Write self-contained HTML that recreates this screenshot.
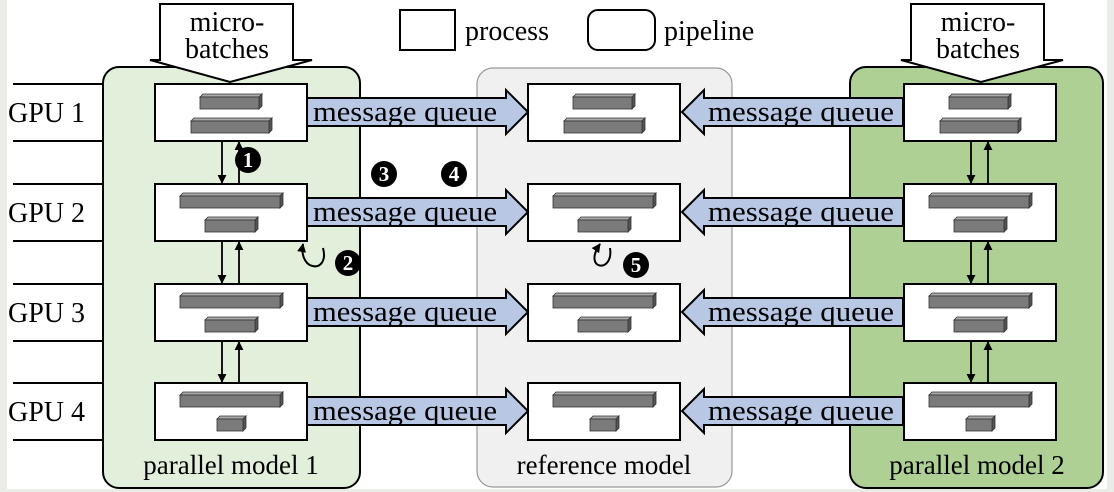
<!DOCTYPE html>
<html><head><meta charset="utf-8"><style>
html,body{margin:0;padding:0;background:#fff;}
svg{display:block;}
</style></head><body>
<svg width="1114" height="492" viewBox="0 0 1114 492" xmlns="http://www.w3.org/2000/svg" font-family="'Liberation Serif', 'Times New Roman', serif">
<defs>
  <marker id="ah" viewBox="0 0 10 10" refX="9" refY="5" markerWidth="9" markerHeight="9" orient="auto-start-reverse" markerUnits="userSpaceOnUse">
    <path d="M0,0 L10,5 L0,10 z" fill="#000"/>
  </marker>
  <g id="bar-a">
    <polygon points="45,13 48,10 107,10 104,13" fill="#aaa" stroke="#333" stroke-width="0.8"/>
    <polygon points="104,13 107,10 107,22 104,25" fill="#555" stroke="#333" stroke-width="0.8"/>
    <rect x="45" y="13" width="59" height="12" fill="#7b7b7b" stroke="#333" stroke-width="0.8"/>
    <polygon points="36,37 39,34 117,34 114,37" fill="#aaa" stroke="#333" stroke-width="0.8"/>
    <polygon points="114,37 117,34 117,46 114,49" fill="#555" stroke="#333" stroke-width="0.8"/>
    <rect x="36" y="37" width="78" height="12" fill="#7b7b7b" stroke="#333" stroke-width="0.8"/>
  </g>
  <g id="bar-long">
    <polygon points="25,12 28,9 128,9 125,12" fill="#aaa" stroke="#333" stroke-width="0.8"/>
    <polygon points="125,12 128,9 128,21 125,24" fill="#555" stroke="#333" stroke-width="0.8"/>
    <rect x="25" y="12" width="100" height="12" fill="#7b7b7b" stroke="#333" stroke-width="0.8"/>
  </g>
  <g id="bar-b">
    <use href="#bar-long"/>
    <polygon points="50,36 53,33 103,33 100,36" fill="#aaa" stroke="#333" stroke-width="0.8"/>
    <polygon points="100,36 103,33 103,45 100,48" fill="#555" stroke="#333" stroke-width="0.8"/>
    <rect x="50" y="36" width="50" height="12" fill="#7b7b7b" stroke="#333" stroke-width="0.8"/>
  </g>
  <g id="bar-c">
    <use href="#bar-long"/>
    <polygon points="62,36 65,33 91,33 88,36" fill="#aaa" stroke="#333" stroke-width="0.8"/>
    <polygon points="88,36 91,33 91,45 88,48" fill="#555" stroke="#333" stroke-width="0.8"/>
    <rect x="62" y="36" width="26" height="12" fill="#7b7b7b" stroke="#333" stroke-width="0.8"/>
  </g>
  <rect id="box" x="0" y="0" width="152" height="57" fill="#fff" stroke="#000" stroke-width="2"/>
  <g id="arrR">
    <polygon points="0,14 199,14 199,6 221,28 199,50 199,42 0,42" fill="#b7c7e4" stroke="#000" stroke-width="2"/>
  </g>
  <g id="arrL">
    <polygon points="221,14 22,14 22,6 0,28 22,50 22,42 221,42" fill="#b7c7e4" stroke="#000" stroke-width="2"/>
  </g>
</defs>

<rect x="0" y="0" width="7" height="492" fill="#eaede7"/>
<rect x="0" y="489" width="1114" height="3" fill="#eaede7"/>
<rect x="1107" y="0" width="7" height="492" fill="#eaede7"/>

<rect x="103" y="67" width="257" height="421" rx="16" fill="#e2efda" stroke="#000" stroke-width="2"/>
<rect x="477" y="68" width="255" height="419" rx="16" fill="#f0f0f0" stroke="#999" stroke-width="1.2"/>
<rect x="850" y="67" width="253" height="421" rx="16" fill="#aed094" stroke="#000" stroke-width="2"/>

<g stroke="#000" stroke-width="2">
  <line x1="13" y1="84" x2="104" y2="84"/><line x1="13" y1="141" x2="104" y2="141"/>
  <line x1="13" y1="184" x2="104" y2="184"/><line x1="13" y1="241" x2="104" y2="241"/>
  <line x1="13" y1="284" x2="104" y2="284"/><line x1="13" y1="341" x2="104" y2="341"/>
  <line x1="13" y1="383" x2="104" y2="383"/><line x1="13" y1="440" x2="104" y2="440"/>
</g>
<g font-size="28">
  <text x="8" y="122">GPU 1</text>
  <text x="8" y="222">GPU 2</text>
  <text x="8" y="322">GPU 3</text>
  <text x="8" y="421">GPU 4</text>
</g>

<polygon points="160,4 293,4 293,60 312,60 230,82 150,60 160,60" fill="#fff" stroke="#000" stroke-width="2"/>
<polygon points="911,4 1044,4 1044,60 1063,60 981,82 901,60 911,60" fill="#fff" stroke="#000" stroke-width="2"/>
<g font-size="28" text-anchor="middle">
  <text x="227" y="31">micro-</text><text x="227" y="58">batches</text>
  <text x="978" y="31">micro-</text><text x="978" y="58">batches</text>
</g>

<rect x="400" y="10" width="55" height="40" fill="#fff" stroke="#000" stroke-width="2"/>
<text x="465" y="40" font-size="28">process</text>
<rect x="588" y="10" width="67" height="40" rx="10" fill="#fff" stroke="#000" stroke-width="2"/>
<text x="664" y="40" font-size="28">pipeline</text>

<g>
  <g transform="translate(155,84)"><use href="#box"/><use href="#bar-a"/></g>
  <g transform="translate(155,184)"><use href="#box"/><use href="#bar-b"/></g>
  <g transform="translate(155,284)"><use href="#box"/><use href="#bar-b"/></g>
  <g transform="translate(155,383)"><use href="#box"/><use href="#bar-c"/></g>
  <g transform="translate(528,84)"><use href="#box"/><use href="#bar-a"/></g>
  <g transform="translate(528,184)"><use href="#box"/><use href="#bar-b"/></g>
  <g transform="translate(528,284)"><use href="#box"/><use href="#bar-b"/></g>
  <g transform="translate(528,383)"><use href="#box"/><use href="#bar-c"/></g>
  <g transform="translate(904,84)"><use href="#box"/><use href="#bar-a"/></g>
  <g transform="translate(904,184)"><use href="#box"/><use href="#bar-b"/></g>
  <g transform="translate(904,284)"><use href="#box"/><use href="#bar-b"/></g>
  <g transform="translate(904,383)"><use href="#box"/><use href="#bar-c"/></g>
</g>

<use href="#arrR" transform="translate(307,84)"/>
<use href="#arrR" transform="translate(307,184)"/>
<use href="#arrR" transform="translate(307,284)"/>
<use href="#arrR" transform="translate(307,383)"/>
<use href="#arrL" transform="translate(682,84)"/>
<use href="#arrL" transform="translate(682,184)"/>
<use href="#arrL" transform="translate(682,284)"/>
<use href="#arrL" transform="translate(682,383)"/>
<g font-size="28">
  <text x="313" y="121" textLength="184" lengthAdjust="spacingAndGlyphs">message queue</text>
  <text x="313" y="221" textLength="184" lengthAdjust="spacingAndGlyphs">message queue</text>
  <text x="313" y="321" textLength="184" lengthAdjust="spacingAndGlyphs">message queue</text>
  <text x="313" y="420" textLength="184" lengthAdjust="spacingAndGlyphs">message queue</text>
  <text x="708" y="121" textLength="186" lengthAdjust="spacingAndGlyphs">message queue</text>
  <text x="708" y="221" textLength="186" lengthAdjust="spacingAndGlyphs">message queue</text>
  <text x="708" y="321" textLength="186" lengthAdjust="spacingAndGlyphs">message queue</text>
  <text x="708" y="420" textLength="186" lengthAdjust="spacingAndGlyphs">message queue</text>
</g>

<g stroke="#000" stroke-width="1.8" marker-end="url(#ah)">
  <line x1="222" y1="142" x2="222" y2="183"/><line x1="239" y1="183" x2="239" y2="142"/>
  <line x1="222" y1="242" x2="222" y2="283"/><line x1="239" y1="283" x2="239" y2="242"/>
  <line x1="222" y1="342" x2="222" y2="382"/><line x1="239" y1="382" x2="239" y2="342"/>
  <line x1="971" y1="142" x2="971" y2="183"/><line x1="988" y1="183" x2="988" y2="142"/>
  <line x1="971" y1="242" x2="971" y2="283"/><line x1="988" y1="283" x2="988" y2="242"/>
  <line x1="971" y1="342" x2="971" y2="382"/><line x1="988" y1="382" x2="988" y2="342"/>
</g>

<path d="M323,248 C330,274 298,272 303,244" fill="none" stroke="#000" stroke-width="2" marker-end="url(#ah)"/>
<path d="M610,248 C614,274 582,270 600,244" fill="none" stroke="#000" stroke-width="2" marker-end="url(#ah)"/>

<g font-size="21" font-weight="bold" text-anchor="middle">
  <circle cx="248" cy="160" r="13"/><text x="248" y="167" fill="#fff">1</text>
  <circle cx="348" cy="263" r="13"/><text x="348" y="270" fill="#fff">2</text>
  <circle cx="384" cy="174" r="13"/><text x="384" y="181" fill="#fff">3</text>
  <circle cx="454" cy="174" r="13"/><text x="454" y="181" fill="#fff">4</text>
  <circle cx="636" cy="265" r="13"/><text x="636" y="272" fill="#fff">5</text>
</g>

<g font-size="27" text-anchor="middle">
  <text x="231" y="474">parallel model 1</text>
  <text x="604" y="474">reference model</text>
  <text x="977" y="474">parallel model 2</text>
</g>
</svg>
</body></html>
